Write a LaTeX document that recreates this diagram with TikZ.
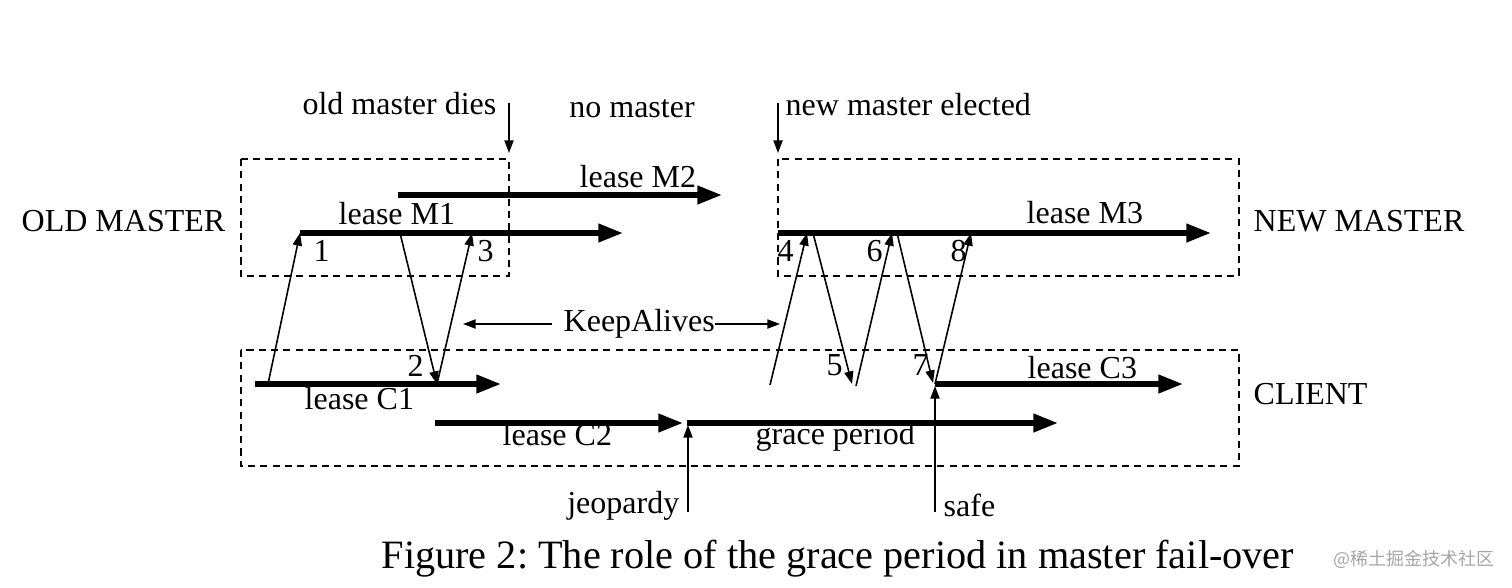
\documentclass[tikz,border=0pt]{standalone}
\usepackage{fontspec}
\setmainfont{Liberation Serif}
\newfontfamily\cjkfont{Noto Sans CJK SC}
\usetikzlibrary{arrows.meta}
\frenchspacing

\begin{document}
\begin{tikzpicture}[x=0.01cm,y=-0.01cm,
  lease/.style={black,line width=1.5pt,-{Triangle[length=7pt,width=5pt]}},
  msg/.style={black,line width=0.45pt,-{Triangle[length=3.6pt,width=2.6pt]}},
  region/.style={black,line width=0.45pt,dash pattern=on 2pt off 1.5pt},
  lbl/.style={black,font=\fontsize{9.1}{11}\selectfont,inner sep=0pt}]
  \useasboundingbox (0,0) rectangle (1512,587);
  % boxes
   \draw[region] (241,159) rectangle (509,276);
   \draw[region] (778,159) rectangle (1239,276);
   \draw[region] (241,350) rectangle (1239,466);
  \node[lbl,anchor=base west] (oldm) at (21,231) {OLD MASTER};
  \node[lbl,anchor=base west] (newm) at (1253,231) {NEW MASTER};
  \node[lbl,anchor=base west] (cli) at (1253,404) {CLIENT};
  % lease end points
   \coordinate (m1a) at (300,233); \coordinate (m1b) at (623,233);
   \coordinate (m2a) at (398,195); \coordinate (m2b) at (722,195);
   \coordinate (m3a) at (778,233); \coordinate (m3b) at (1211,233);
   \coordinate (c1a) at (255,384); \coordinate (c1b) at (501,384);
   \coordinate (c2a) at (435,423); \coordinate (c2b) at (683,423);
   \coordinate (gpa) at (687,423); \coordinate (gpb) at (1058,423);
   \coordinate (c3a) at (935,384); \coordinate (c3b) at (1183,384);
  \draw[lease] (m1a) -- (m1b);
  \draw[lease] (m2a) -- (m2b);
  \draw[lease] (m3a) -- (m3b);
  \draw[lease] (c1a) -- (c1b);
  \draw[lease] (c2a) -- (c2b);
  \draw[lease] (gpa) -- (gpb);
  \draw[lease] (c3a) -- (c3b);
  \node[lbl,anchor=base west] (lm1) at (338,224) {lease M1};
  \node[lbl,anchor=base west] (lm2) at (579,187) {lease M2};
  \node[lbl,anchor=base west] (lm3) at (1026,223) {lease M3};
  \node[lbl,anchor=base west] (lc1) at (304,409) {lease C1};
  \node[lbl,anchor=base west] (lc2) at (502,445) {lease C2};
  \node[lbl,anchor=base west] (lgp) at (755,444) {grace period};
  \node[lbl,anchor=base west] (lc3) at (1027,378) {lease C3};
  % KeepAlive messages
   \coordinate (k1) at (268,384);
   \coordinate (k2) at (400,233); \coordinate (k2e) at (437,384);
   \coordinate (k3) at (472,233);
   \coordinate (k4) at (770,385); \coordinate (k4e) at (807,233);
   \coordinate (k5) at (813,233); \coordinate (k5e) at (852,384);
   \coordinate (k6) at (856,386); \coordinate (k6e) at (892,233);
   \coordinate (k7) at (897,233); \coordinate (k7e) at (933,383);
   \coordinate (k8e) at (971,233);
  \draw[msg] (k1) -- (m1a);
  \draw[msg] (k2) -- (k2e);
  \draw[msg] (k2e) -- (k3);
  \draw[msg] (k4) -- (k4e);
  \draw[msg] (k5) -- (k5e);
  \draw[msg] (k6) -- (k6e);
  \draw[msg] (k7) -- (k7e);
  \draw[msg] (c3a) -- (k8e);
  \node[lbl,anchor=base west] (n1) at (313,261) {1};
  \node[lbl,anchor=base west] (n2) at (407,376) {2};
  \node[lbl,anchor=base west] (n3) at (477,261) {3};
  \node[lbl,anchor=base west] (n4) at (777,261) {4};
  \node[lbl,anchor=base west] (n5) at (826,375) {5};
  \node[lbl,anchor=base west] (n6) at (866,261) {6};
  \node[lbl,anchor=base west] (n7) at (912,375) {7};
  \node[lbl,anchor=base west] (n8) at (950,261) {8};
  \node[lbl,anchor=base west] (ka) at (563,331) {KeepAlives};
   \coordinate (kal) at (463,324); \coordinate (kar) at (780,324);
  \draw[msg] (ka.west |- kal) ++(-11,0) -- (kal);
  \draw[msg] (ka.east |- kar) -- (kar);
  % events
  \node[lbl,anchor=base east] (dies) at (497,114) {old master dies};
  \node[lbl,anchor=base] (nom) at (632,117) {no master};
  \node[lbl,anchor=base west] (elec) at (785,115) {new master elected};
  \node[lbl,anchor=base east] (jeo) at (680,513) {jeopardy};
  \node[lbl,anchor=base west] (safe) at (943,516) {safe};
   \coordinate (dies0) at (509,103); \coordinate (dies1) at (509,153);
   \coordinate (elec0) at (778,103); \coordinate (elec1) at (778,153);
   \coordinate (jeo0) at (688,512); \coordinate (jeo1) at (688,425);
   \coordinate (safe0) at (935,512); \coordinate (safe1) at (935,386);
  \draw[msg] (dies0) -- (dies1);
  \draw[msg] (elec0) -- (elec1);
  \draw[msg] (jeo0) -- (jeo1);
  \draw[msg] (safe0) -- (safe1);
  \node[black,anchor=base west,inner sep=0pt,font=\fontsize{11.45}{14}\selectfont] (cap) at (381,568)
    {Figure 2: The role of the grace period in master fail-over};
  \node[gray!70,anchor=west,inner sep=0pt,font=\cjkfont\fontsize{5.1}{7}\selectfont] (wm) at (1333,559) {@稀土掘金技术社区};
\end{tikzpicture}
\end{document}
